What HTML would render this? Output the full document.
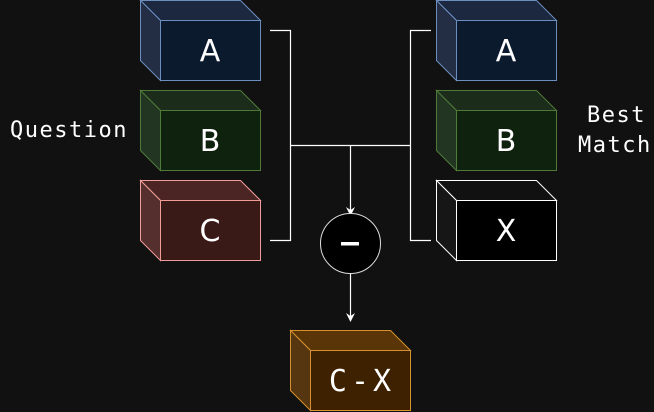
<!DOCTYPE html>
<html><head><style>
html,body{margin:0;padding:0;background:#111111;}
svg{display:block;}
</style></head><body>
<svg width="654" height="412" viewBox="0 0 654 412" xmlns="http://www.w3.org/2000/svg">
<rect width="654" height="412" fill="#111111"/>
<g font-family="DejaVu Sans, Liberation Sans, sans-serif" font-size="30" fill="#fff" text-anchor="middle">
<g stroke="#6c8ebf" stroke-width="1">
<polygon points="140.5,0.5 240.5,0.5 260.5,20.5 160.5,20.5" fill="#1c2840"/>
<polygon points="140.5,0.5 160.5,20.5 160.5,80.5 140.5,60.5" fill="#232e44"/>
<rect x="160.5" y="20.5" width="100" height="60" fill="#0c1a2e"/>
</g>
<text x="210" y="61">A</text>
<g stroke="#4f7a3a">
<polygon points="140.5,90.5 240.5,90.5 260.5,110.5 160.5,110.5" fill="#1b2c1a"/>
<polygon points="140.5,90.5 160.5,110.5 160.5,170.5 140.5,150.5" fill="#223522"/>
<rect x="160.5" y="110.5" width="100" height="60" fill="#0f220d"/>
</g>
<text x="210" y="151">B</text>
<g stroke="#f19c99">
<polygon points="140.5,180.5 240.5,180.5 260.5,200.5 160.5,200.5" fill="#4a2523"/>
<polygon points="140.5,180.5 160.5,200.5 160.5,260.5 140.5,240.5" fill="#552f2d"/>
<rect x="160.5" y="200.5" width="100" height="60" fill="#3a1a16"/>
</g>
<text x="210" y="241">C</text>
<g stroke="#6c8ebf">
<polygon points="436.5,0.5 536.5,0.5 556.5,20.5 456.5,20.5" fill="#1c2840"/>
<polygon points="436.5,0.5 456.5,20.5 456.5,80.5 436.5,60.5" fill="#232e44"/>
<rect x="456.5" y="20.5" width="100" height="60" fill="#0c1a2e"/>
</g>
<text x="506" y="61">A</text>
<g stroke="#4f7a3a">
<polygon points="436.5,90.5 536.5,90.5 556.5,110.5 456.5,110.5" fill="#1b2c1a"/>
<polygon points="436.5,90.5 456.5,110.5 456.5,170.5 436.5,150.5" fill="#223522"/>
<rect x="456.5" y="110.5" width="100" height="60" fill="#0f220d"/>
</g>
<text x="506" y="151">B</text>
<g stroke="#ffffff">
<polygon points="436.5,180.5 536.5,180.5 556.5,200.5 456.5,200.5" fill="#111111"/>
<polygon points="436.5,180.5 456.5,200.5 456.5,260.5 436.5,240.5" fill="#161616"/>
<rect x="456.5" y="200.5" width="100" height="60" fill="#000000"/>
</g>
<text x="506" y="241">X</text>
<g stroke="#d7902e">
<polygon points="290.5,330.5 390.5,330.5 410.5,350.5 310.5,350.5" fill="#5a3507"/>
<polygon points="290.5,330.5 310.5,350.5 310.5,410.5 290.5,390.5" fill="#553610"/>
<rect x="310.5" y="350.5" width="100" height="60" fill="#3d2100"/>
</g>
<text x="362" y="391" font-family="DejaVu Sans Mono, monospace" letter-spacing="4">C-X</text>
</g>
<g stroke="#ffffff" stroke-width="1.2" fill="none">
<polyline points="270,30.5 290.5,30.5 290.5,240.5 270,240.5"/>
<polyline points="431,30.5 410.5,30.5 410.5,240.5 431,240.5"/>
<line x1="290.5" y1="145.5" x2="410.5" y2="145.5"/>
<line x1="350.5" y1="145.5" x2="350.5" y2="210"/>
<line x1="350.5" y1="273" x2="350.5" y2="317"/>
</g>
<path d="M346,207 L350.5,216 L355,207 L350.5,210 Z" fill="#fff"/>
<path d="M346,313 L350.5,322 L355,313 L350.5,316 Z" fill="#fff"/>
<circle cx="350.5" cy="243.5" r="30" fill="#000" stroke="#ddd" stroke-width="1"/>
<rect x="341" y="242" width="18" height="3.5" fill="#fff"/>
<g font-family="DejaVu Sans Mono, Liberation Mono, monospace" font-size="22" fill="#fff" letter-spacing="1.5">
<text x="10" y="137">Question</text>
<text x="587" y="122">Best</text>
<text x="578" y="152">Match</text>
</g>
</svg>
</body></html>
